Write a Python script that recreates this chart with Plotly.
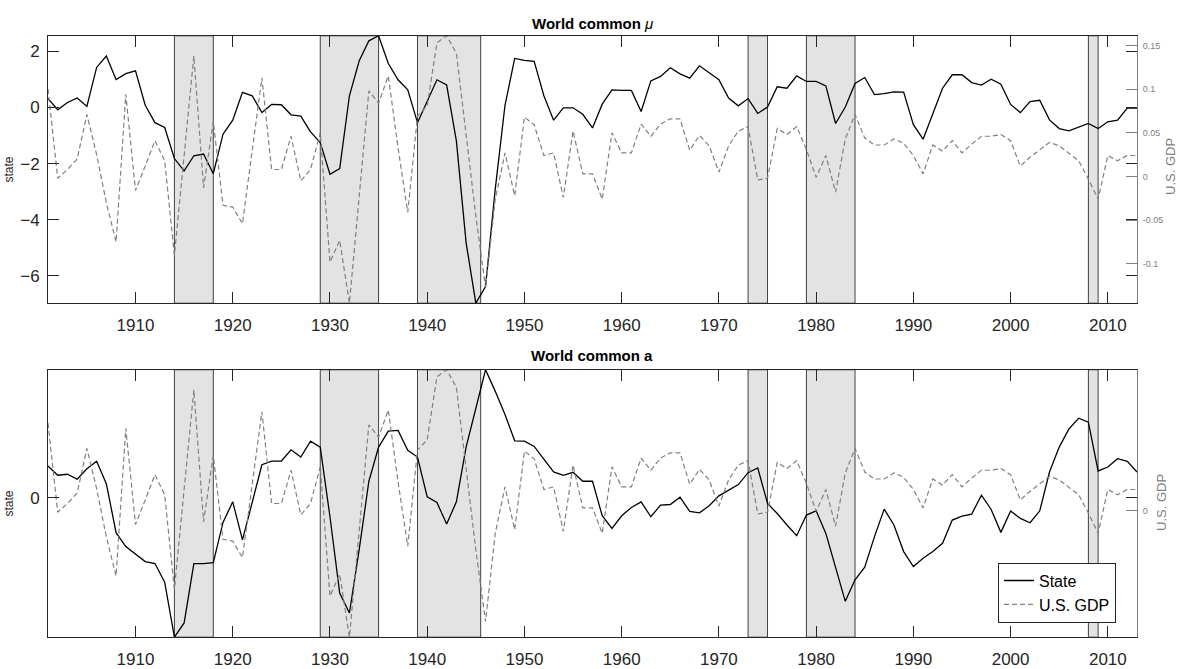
import plotly.graph_objects as go

years = list(range(1901, 2014))

state_mu = [0.32, -0.08, 0.18, 0.34, 0.04, 1.43, 1.84, 1.00, 1.21, 1.31,
            0.08, -0.54, -0.71, -1.82, -2.26, -1.72, -1.66, -2.36, -0.95, -0.45,
            0.54, 0.42, -0.18, 0.11, 0.10, -0.26, -0.31, -0.87, -1.25, -2.38,
            -2.18, 0.42, 1.66, 2.38, 2.56, 1.57, 0.99, 0.63, -0.54, 0.24,
            0.99, 0.81, -1.19, -4.82, -6.98, -6.39, -2.90, 0.08, 1.75, 1.68,
            1.65, 0.42, -0.45, -0.01, -0.01, -0.24, -0.73, 0.12, 0.63, 0.61,
            0.61, -0.14, 0.95, 1.11, 1.42, 1.20, 1.05, 1.49, 1.25, 0.99,
            0.34, 0.06, 0.32, -0.21, 0.02, 0.74, 0.69, 1.13, 0.93, 0.93,
            0.77, -0.57, 0.02, 0.86, 1.07, 0.46, 0.50, 0.56, 0.55, -0.61,
            -1.13, -0.21, 0.69, 1.17, 1.17, 0.89, 0.80, 1.01, 0.83, 0.11,
            -0.18, 0.21, 0.26, -0.44, -0.75, -0.83, -0.71, -0.57, -0.75, -0.51,
            -0.45, -0.02, -0.02]

state_a = [0.320, 0.227, 0.237, 0.187, 0.293, 0.367, 0.143, -0.350, -0.490, -0.567,
           -0.640, -0.660, -0.847, -1.400, -1.257, -0.660, -0.660, -0.650, -0.247, -0.040,
           -0.423, -0.047, 0.333, 0.370, 0.370, 0.483, 0.410, 0.570, 0.510, -0.190,
           -0.957, -1.157, -0.523, 0.167, 0.510, 0.670, 0.677, 0.477, 0.410, 0.010,
           -0.047, -0.263, -0.040, 0.510, 0.910, 1.287, 1.070, 0.837, 0.573, 0.570,
           0.517, 0.393, 0.260, 0.227, 0.257, 0.167, 0.167, -0.180, -0.307, -0.180,
           -0.097, -0.040, -0.190, -0.073, -0.067, 0.007, -0.137, -0.150, -0.080, 0.020,
           0.077, 0.133, 0.253, 0.300, -0.057, -0.157, -0.273, -0.380, -0.173, -0.130,
           -0.357, -0.707, -1.040, -0.823, -0.697, -0.390, -0.113, -0.273, -0.540, -0.690,
           -0.607, -0.540, -0.457, -0.223, -0.183, -0.163, 0.027, -0.117, -0.347, -0.133,
           -0.207, -0.250, -0.130, 0.260, 0.510, 0.693, 0.800, 0.760, 0.270, 0.310,
           0.393, 0.367, 0.260]

us_gdp = [0.100, -0.002, 0.008, 0.020, 0.071, 0.025, -0.030, -0.075, 0.094, -0.016,
          0.012, 0.041, 0.018, -0.090, 0.024, 0.138, -0.013, 0.063, -0.033, -0.035,
          -0.054, 0.030, 0.113, 0.008, 0.008, 0.046, -0.005, 0.008, 0.050, -0.098,
          -0.073, -0.145, -0.022, 0.098, 0.084, 0.115, 0.033, -0.041, 0.069, 0.081,
          0.153, 0.161, 0.141, 0.050, -0.045, -0.127, -0.026, 0.027, -0.022, 0.068,
          0.059, 0.024, 0.027, -0.024, 0.052, 0.003, 0.003, -0.026, 0.050, 0.027,
          0.027, 0.060, 0.046, 0.060, 0.066, 0.066, 0.030, 0.047, 0.035, 0.005,
          0.035, 0.052, 0.057, -0.004, -0.002, 0.055, 0.048, 0.057, 0.031, -0.001,
          0.024, -0.018, 0.043, 0.071, 0.044, 0.036, 0.036, 0.043, 0.038, 0.024,
          0.003, 0.036, 0.029, 0.041, 0.027, 0.037, 0.046, 0.046, 0.048, 0.041,
          0.012, 0.022, 0.031, 0.039, 0.035, 0.027, 0.018, -0.003, -0.026, 0.024,
          0.018, 0.024, 0.024]

recession_start = [1914, 1929, 1939, 1973, 1979, 2008]
recession_end = [1918, 1935, 1945.5, 1975, 1984, 2009]

x_ticks = [1910, 1920, 1930, 1940, 1950, 1960, 1970, 1980, 1990, 2000, 2010]
mu_ticks = [-6, -4, -2, 0, 2]
gdp_ticks_top = [-0.1, -0.05, 0, 0.05, 0.1, 0.15]
gdp_ticklabels_top = ["-0.1", "-0.05", "0", "0.05", "0.1", "0.15"]

FONT = "Liberation Sans, Arial, sans-serif"
W, H = 1179, 669
GRAY = "#808080"
DARK = "#262626"

def px_x(p):
    return p / W

def px_y(p):
    return 1 - p / H

xdom = [px_x(48), px_x(1137)]
top_dom = [px_y(305), px_y(36)]
bot_dom = [px_y(641), px_y(372)]

fig = go.Figure()

solid = dict(color="black", width=1.3)
dashed = dict(color=GRAY, width=1.2, dash="5px,3px")

fig.add_trace(go.Scatter(x=years, y=state_mu, mode="lines", line=solid,
                         xaxis="x", yaxis="y", showlegend=False))
fig.add_trace(go.Scatter(x=years, y=us_gdp, mode="lines", line=dashed,
                         xaxis="x", yaxis="y2", showlegend=False))
fig.add_trace(go.Scatter(x=years, y=state_a, mode="lines", line=solid,
                         xaxis="x2", yaxis="y3", name="State"))
fig.add_trace(go.Scatter(x=years, y=us_gdp, mode="lines", line=dashed,
                         xaxis="x2", yaxis="y4", name="U.S. GDP"))

shapes = []
for s, e in zip(recession_start, recession_end):
    for xr, yr in (("x", "y domain"), ("x2", "y3 domain")):
        shapes.append(dict(type="rect", xref=xr, yref=yr, x0=s, x1=e, y0=0, y1=1,
                           fillcolor="#e3e3e3", line=dict(color="#404040", width=1),
                           layer="below"))

xcommon = dict(range=[1901, 2013], tickmode="array", tickvals=x_ticks,
               ticks="inside", ticklen=11, tickcolor=DARK, showline=True,
               linecolor=DARK, linewidth=1, mirror="ticks", showgrid=False,
               zeroline=False, tickfont=dict(family=FONT, size=17, color=DARK),
               domain=xdom, ticklabelstandoff=6)

yleft = dict(ticks="inside", ticklen=11, tickcolor=DARK, showline=True,
             linecolor=DARK, linewidth=1, mirror="ticks", showgrid=False,
             zeroline=False, tickfont=dict(family=FONT, size=17, color=DARK),
             ticklabelstandoff=4)

yright = dict(ticks="inside", ticklen=11, tickcolor=GRAY, showline=True,
              linecolor=GRAY, linewidth=1, showgrid=False, zeroline=False,
              side="right", tickfont=dict(family=FONT, size=9, color=GRAY),
              range=[min(us_gdp), max(us_gdp)], ticklabelstandoff=3)

fig.update_layout(
    width=W, height=H, autosize=False,
    margin=dict(l=0, r=0, t=0, b=0),
    paper_bgcolor="white", plot_bgcolor="white",
    font=dict(family=FONT, color=DARK),
    shapes=shapes,
    xaxis=dict(xcommon, anchor="y"),
    xaxis2=dict(xcommon, anchor="y3"),
    yaxis=dict(yleft, domain=top_dom, anchor="x",
               range=[min(state_mu), max(state_mu)],
               tickmode="array", tickvals=mu_ticks),
    yaxis2=dict(yright, overlaying="y", anchor="x",
                tickmode="array", tickvals=gdp_ticks_top, ticktext=gdp_ticklabels_top),
    yaxis3=dict(yleft, domain=bot_dom, anchor="x2",
                range=[min(state_a), max(state_a)],
                tickmode="array", tickvals=[0]),
    yaxis4=dict(yright, overlaying="y3", anchor="x2",
                tickmode="array", tickvals=[0], ticktext=["0"]),
    legend=dict(x=px_x(998), y=px_y(566), xanchor="left", yanchor="top",
                bgcolor="white", bordercolor=DARK, borderwidth=1,
                font=dict(family=FONT, size=16, color="black"),
                tracegroupgap=0, itemwidth=30),
    annotations=[
        dict(text="<b>World common </b><i>μ</i>", x=0.5025, y=px_y(24), xref="paper", yref="paper",
             showarrow=False, font=dict(family=FONT, size=15, color="black"),
             xanchor="center", yanchor="middle"),
        dict(text="<b>World common a</b>", x=0.5025, y=px_y(358), xref="paper", yref="paper",
             showarrow=False, font=dict(family=FONT, size=15, color="black"),
             xanchor="center", yanchor="middle"),
        dict(text="state", x=px_x(9), y=px_y(170.5), xref="paper", yref="paper",
             textangle=-90, showarrow=False, font=dict(family=FONT, size=12, color=DARK),
             xanchor="center", yanchor="middle"),
        dict(text="state", x=px_x(9), y=px_y(506.5), xref="paper", yref="paper",
             textangle=-90, showarrow=False, font=dict(family=FONT, size=12, color=DARK),
             xanchor="center", yanchor="middle"),
        dict(text="U.S. GDP", x=px_x(1171), y=px_y(168), xref="paper", yref="paper",
             textangle=-90, showarrow=False, font=dict(family=FONT, size=13, color=GRAY),
             xanchor="center", yanchor="middle"),
        dict(text="U.S. GDP", x=px_x(1162), y=px_y(506), xref="paper", yref="paper",
             textangle=-90, showarrow=False, font=dict(family=FONT, size=13, color=GRAY),
             xanchor="center", yanchor="middle"),
    ],
)

fig.write_html("out.html")
